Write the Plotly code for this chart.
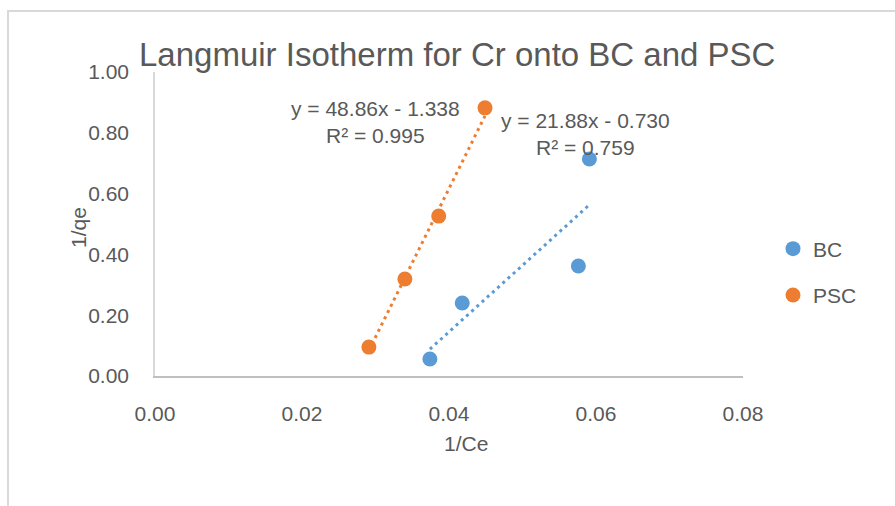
import plotly.graph_objects as go
import numpy as np

# Data
bc_x = [0.0374, 0.0418, 0.0576, 0.0591]
bc_y = [0.056, 0.240, 0.362, 0.714]
psc_x = [0.0291, 0.0340, 0.0386, 0.0449]
psc_y = [0.095, 0.319, 0.526, 0.882]

# Trendline equations as printed on the chart
bc_fit = [21.88, -0.730]
psc_fit = [48.86, -1.338]
bc_label = ["y = 21.88x - 0.730", "R² = 0.759"]
psc_label = ["y = 48.86x - 1.338", "R² = 0.995"]

x_ticks = [0.00, 0.02, 0.04, 0.06, 0.08]
y_ticks = [0.00, 0.20, 0.40, 0.60, 0.80, 1.00]

BLUE = "#5b9bd5"
ORANGE = "#ed7d31"
GREY = "#595959"
FONT = "Liberation Sans"

fig = go.Figure()

for name, xs, ys, col, fit in [("BC", bc_x, bc_y, BLUE, bc_fit), ("PSC", psc_x, psc_y, ORANGE, psc_fit)]:
    tx = np.array([min(xs), max(xs)])
    ty = fit[0] * tx + fit[1]
    fig.add_trace(go.Scatter(x=tx, y=ty, mode="lines", showlegend=False,
                             line=dict(color=col, width=3, dash="3px,4px"), hoverinfo="skip"))

for name, xs, ys, col in [("BC", bc_x, bc_y, BLUE), ("PSC", psc_x, psc_y, ORANGE)]:
    fig.add_trace(go.Scatter(x=xs, y=ys, mode="markers", name=name, legendgroup=name,
                             marker=dict(color=col, size=15)))

L, R, T, B = 155, 152, 72, 130
W, H = 895, 506
pw, ph = W - L - R, H - T - B

def px(xp):
    return (xp - L) / pw

def py(yp):
    return (H - B - yp) / ph

annotations = [
    dict(text="Langmuir Isotherm for Cr onto BC and PSC", x=px(457), y=py(55), xref="paper", yref="paper",
         showarrow=False, font=dict(size=33, color=GREY, family=FONT), xanchor="center", yanchor="middle"),
    dict(text="1/Ce", x=px(466), y=py(443), xref="paper", yref="paper",
         showarrow=False, font=dict(size=21, color=GREY, family=FONT), xanchor="center", yanchor="middle"),
    dict(text="1/qe", x=px(79), y=py(228), xref="paper", yref="paper", textangle=-90,
         showarrow=False, font=dict(size=21, color=GREY, family=FONT), xanchor="center", yanchor="middle"),
    dict(text=psc_label[0] + "<br>" + psc_label[1], x=px(375), y=py(122), xref="paper", yref="paper",
         showarrow=False, font=dict(size=21, color=GREY, family=FONT), xanchor="center", yanchor="middle", align="center"),
    dict(text=bc_label[0] + "<br>" + bc_label[1], x=px(585), y=py(134), xref="paper", yref="paper",
         showarrow=False, font=dict(size=21, color=GREY, family=FONT), xanchor="center", yanchor="middle", align="center"),
]

fig.update_layout(
    width=W, height=H,
    margin=dict(l=L, r=R, t=T, b=B),
    paper_bgcolor="white", plot_bgcolor="white",
    font=dict(family=FONT, size=21, color=GREY),
    showlegend=True,
    legend=dict(x=px(773), y=py(272), xanchor="left", yanchor="middle", tracegroupgap=16,
                font=dict(size=21, color=GREY, family=FONT), bgcolor="rgba(0,0,0,0)", itemwidth=30),
    annotations=annotations,
    shapes=[dict(type="rect", xref="paper", yref="paper", x0=px(8), y0=py(600), x1=px(1000), y1=py(11),
                 line=dict(color="#d9d9d9", width=2), layer="below")],
    xaxis=dict(range=[0, 0.08], tickvals=x_ticks, tickformat=".2f", showgrid=False, zeroline=False,
               showline=True, linecolor="#bfbfbf", linewidth=1.5, ticks="", ticklabelstandoff=18,
               tickfont=dict(size=21, color=GREY, family=FONT), fixedrange=True),
    yaxis=dict(range=[0, 1], tickvals=y_ticks, tickformat=".2f", showgrid=False, zeroline=False,
               showline=True, linecolor="#d9d9d9", linewidth=1.5, ticks="", ticklabelstandoff=20,
               tickfont=dict(size=21, color=GREY, family=FONT), fixedrange=True),
)

fig.write_html("out.html", include_plotlyjs=True, config=dict(displayModeBar=False))
